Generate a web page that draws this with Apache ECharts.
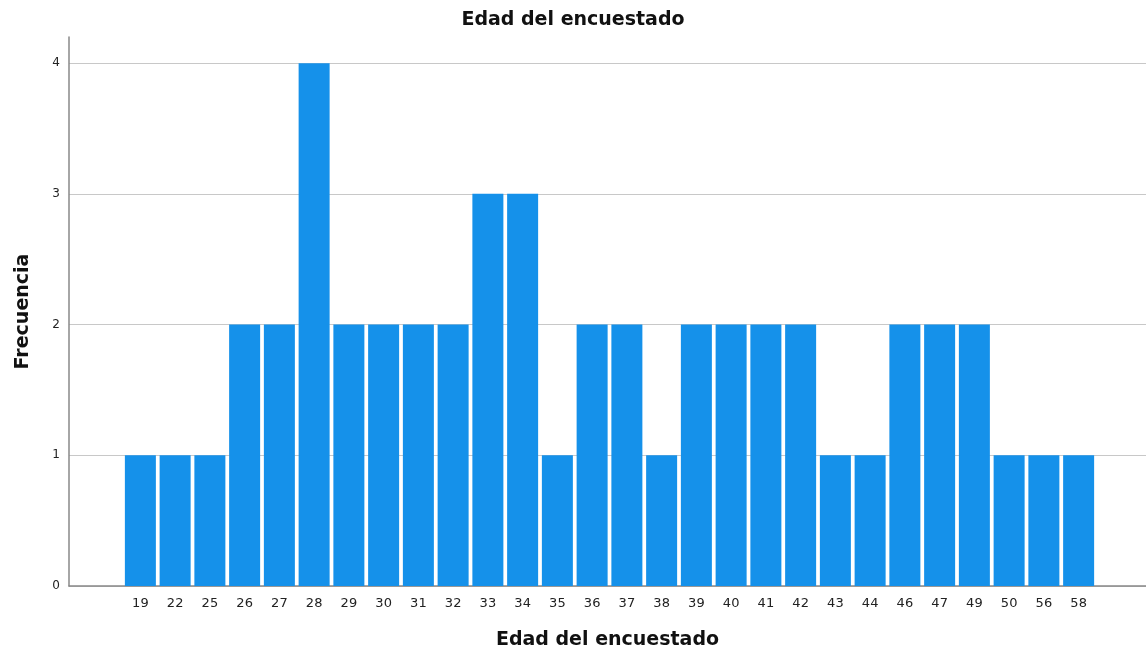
<!DOCTYPE html>
<html>
<head>
<meta charset="utf-8">
<script src="https://cdn.jsdelivr.net/npm/echarts@6/dist/echarts.min.js"></script>
<style>
	html, body { margin: 0; padding: 0; background: #ffffff; }
	#chart { width: 1146px; height: 651px; }
</style>
</head>
<body>
<div id="chart"></div>
<script>
// ages (categories) and their counts
const ages = ["19", "22", "25", "26", "27", "28", "29", "30", "31", "32", "33", "34", "35", "36",
	"37", "38", "39", "40", "41", "42", "43", "44", "46", "47", "49", "50", "56", "58"];
const counts = [1, 1, 1, 2, 2, 4, 2, 2, 2, 2, 3, 3, 1, 2, 2, 1, 2, 2, 2, 2, 1, 1, 2, 2, 2, 1, 1, 1];
const yTicks = [0, 1, 2, 3, 4];

const font = "DejaVu Sans";
const chart = echarts.init(document.getElementById("chart"));

let option = {
	animation: false,
	title: {
		text: "Edad del encuestado",
		left: "center",
		top: 6,
		textStyle: { fontFamily: font, fontSize: 19, fontWeight: "bold", color: "#111" }
	},
	grid: [
		// frame: y axis, gridlines, baseline
		{ left: 69, right: 0, top: 37, bottom: 65, outerBoundsMode: "none" },
		// bars
		{ left: 123, right: 50, top: 37, bottom: 65, outerBoundsMode: "none" }
	],
	xAxis: [
		{
			gridIndex: 0,
			type: "value",
			min: 0,
			max: 1,
			axisLabel: { show: false },
			axisTick: { show: false },
			splitLine: { show: false },
			axisLine: { lineStyle: { color: "#888", width: 1.5 } },
			name: "Edad del encuestado",
			nameLocation: "middle",
			nameGap: 45,
			nameTextStyle: { fontFamily: font, fontSize: 19, fontWeight: "bold", color: "#111" }
		},
		{
			gridIndex: 1,
			type: "category",
			data: ages,
			axisLine: { show: false },
			axisTick: { show: false },
			axisLabel: { margin: 11, fontFamily: font, fontSize: 13, color: "#222", interval: 0 }
		}
	],
	yAxis: [
		{
			gridIndex: 0,
			type: "value",
			min: 0,
			max: 4.2,
			interval: 1,
			axisLine: { show: true, lineStyle: { color: "#888", width: 1.5 } },
			axisTick: { show: false },
			axisLabel: {
				margin: 9,
				fontFamily: font,
				fontSize: 12,
				color: "#222",
				formatter: v => (yTicks.indexOf(v) >= 0 ? String(v) : "")
			},
			splitLine: { showMaxLine: false, lineStyle: { color: "#c8c8c8", width: 1.2 } },
			name: "Frecuencia",
			nameLocation: "middle",
			nameGap: 36,
			nameTextStyle: { fontFamily: font, fontSize: 19, fontWeight: "bold", color: "#111" }
		},
		{
			gridIndex: 1,
			type: "value",
			min: 0,
			max: 4.2,
			show: false,
			splitLine: { show: false }
		}
	],
	series: [
		{
			type: "bar",
			xAxisIndex: 1,
			yAxisIndex: 1,
			data: counts,
			barWidth: 31,
			itemStyle: { color: "#1591ea" }
		}
	]
};
chart.setOption(option);
</script>
</body>
</html>
